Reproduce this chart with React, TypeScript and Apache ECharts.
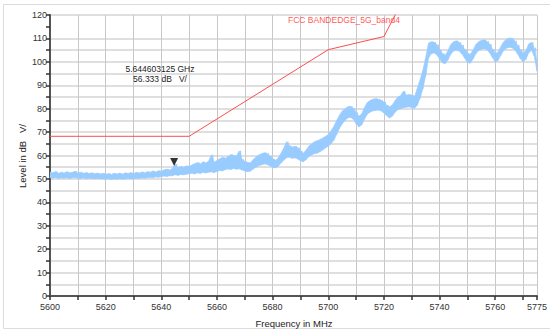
import React, { useEffect, useRef } from "react";
import * as echarts from "echarts";

// Measured trace: one low/high pair per MHz, starting at 5600 MHz
const traceStartMHz = 5600;
const traceStepMHz = 1;
const traceLow = [
  50.5, 50.3, 50.6, 50.2, 50.4, 50.3, 50.5, 50.2, 50.4, 50.6,
  50.3, 50.2, 50.4, 50.1, 50.3, 50.2, 50.0, 50.2, 50.1, 50.0,
  49.9, 50.1, 49.8, 50.0, 49.9, 50.1, 49.9, 50.0, 50.2, 50.0,
  50.1, 50.3, 50.2, 50.4, 50.3, 50.5, 50.6, 50.5, 50.8, 50.7,
  51.0, 51.2, 51.0, 51.4, 51.3, 51.8, 51.5, 51.9, 51.7, 52.0,
  52.2, 52.4, 52.1, 52.6, 52.3, 52.8, 52.5, 52.9, 53.0, 52.7,
  53.2, 53.6, 53.4, 54.0, 54.2, 54.0, 54.5, 54.1, 54.3, 53.8,
  53.4, 53.1, 53.3, 54.2, 55.0, 55.6, 56.0, 56.4, 56.2, 55.6,
  55.0, 54.7, 55.3, 56.8, 58.0, 59.0, 59.3, 58.8, 59.0, 58.5,
  57.8, 57.3, 58.2, 59.5, 60.2, 60.8, 61.0, 61.6, 62.4, 63.2,
  64.0, 65.0, 66.5, 69.0, 71.5, 73.5, 75.0, 76.0, 76.3, 75.5,
  73.6, 72.3, 73.0, 75.5, 77.6, 78.5, 79.0, 79.2, 79.4, 79.0,
  78.2, 77.0, 76.0, 76.8, 78.5, 79.5, 80.0, 80.4, 80.6, 80.8,
  80.5, 80.2, 81.5, 84.5, 88.5, 94.0, 101.5, 103.4, 103.8, 103.0,
  101.2, 99.6, 99.2, 100.8, 103.2, 104.6, 105.0, 104.6, 103.4, 101.6,
  99.8, 99.4, 101.2, 103.4, 104.8, 105.4, 105.6, 105.2, 103.8, 101.8,
  100.0, 100.6, 102.8, 104.8, 105.8, 106.2, 106.0, 105.2, 103.4, 101.4,
  100.0, 101.0, 103.8, 105.0, 102.5, 96.0,
];
const traceHigh = [
  53.0, 52.6, 53.2, 52.4, 52.9, 52.5, 53.1, 52.6, 52.8, 53.3,
  52.5, 52.9, 52.4, 52.7, 52.3, 52.6, 52.2, 52.5, 52.1, 52.4,
  52.0, 52.3, 51.9, 52.4, 52.1, 52.5, 52.0, 52.6, 52.3, 52.7,
  52.2, 52.8, 52.5, 53.0, 52.6, 53.1, 52.9, 53.4, 53.0, 53.5,
  53.3, 53.9, 54.2, 53.8, 54.6, 56.3, 54.8, 55.3, 54.9, 55.6,
  55.2, 56.0, 56.5, 57.0, 56.4, 57.3, 56.8, 57.6, 60.3, 57.2,
  57.9, 58.6, 59.2, 58.8, 59.6, 60.4, 60.0, 59.8, 62.0, 58.4,
  57.5, 57.0, 56.8, 58.3, 59.4, 60.2, 60.8, 61.2, 60.9, 59.8,
  58.6, 58.0, 58.9, 61.0, 63.2, 65.9, 64.2, 63.6, 64.0, 63.4,
  62.0, 61.0, 62.3, 64.0, 65.0, 65.9, 66.3, 66.8, 67.5, 68.2,
  69.0, 70.6, 72.5, 75.0, 77.2, 79.0, 80.0, 80.8, 81.0, 80.2,
  78.3, 76.8, 77.8, 80.5, 82.6, 83.5, 84.0, 84.3, 84.0, 83.6,
  82.8, 81.5, 80.8, 81.6, 83.5, 85.0, 85.6, 87.5, 85.8, 86.0,
  85.8, 85.2, 88.8, 92.5, 96.5, 102.0, 108.0, 108.6, 108.4, 107.4,
  105.2, 103.6, 102.8, 104.8, 107.4, 108.6, 109.0, 108.4, 107.2, 105.4,
  103.6, 103.2, 105.0, 107.4, 108.6, 109.2, 109.4, 108.8, 107.6, 105.4,
  103.6, 104.2, 106.6, 108.6, 109.6, 110.2, 110.0, 109.0, 107.2, 105.2,
  103.6, 104.8, 107.6, 108.4, 106.0, 99.5,
];

// FCC band-edge limit line
const limitFreqs = [5600, 5650, 5700, 5720, 5725];
const limitLevels = [68.2, 68.2, 105.2, 110.8, 122.2];
const limitName = "FCC BANDEDGE_5G_band4";

// Marker
const markerFreqMHz = 5644.603125;
const markerLevel = 56.333;
const markerLine1 = "5.644603125 GHz";
const markerLine2 = "56.333 dB   V/";

// Axes
const xMin = 5600;
const xMax = 5775;
const yMin = 0;
const yMax = 120;
const yStep = 5;
const yHiddenGridLevel = 115; // no horizontal grid line at this level in the source
const xTitle = "Frequency in MHz";
const yTitle = "Level in dB   V/";

const FONT = "Liberation Sans, Arial, sans-serif";
const TRACE_COLOR = "#99ccff";

export default function App() {
  const ref = useRef<HTMLDivElement>(null);

  useEffect(() => {
    if (!ref.current) return;
    const chart = echarts.init(ref.current, undefined, { renderer: "svg" });

    const freqs = traceLow.map((_, i) => traceStartMHz + i * traceStepMHz);
    const zigzag: number[][] = [];
    freqs.forEach((f, i) => {
      zigzag.push([f, traceLow[i]]);
      if (f + 0.5 <= xMax) zigzag.push([f + 0.5, traceHigh[i]]);
    });
    const limitData = limitFreqs.map((f, i) => [f, limitLevels[i]]);

    const yGridCount = Math.round((yMax - yMin) / yStep) + 1;
    const yGridColors: string[] = [];
    for (let k = 0; k < yGridCount; k++) {
      const level = yMin + k * yStep;
      yGridColors.push(level === yHiddenGridLevel ? "rgba(0,0,0,0)" : "#d4d4d4");
    }

    chart.setOption({
      animation: false,
      backgroundColor: "#ffffff",
      textStyle: { fontFamily: FONT },
      grid: { left: 50, right: 12, top: 15, bottom: 38, containLabel: false },
      xAxis: {
        type: "value",
        min: xMin,
        max: xMax,
        interval: 10,
        axisLine: { show: true, onZero: false, lineStyle: { color: "#555", width: 2 } },
        axisTick: { show: true, length: 4, lineStyle: { color: "#333", width: 1.5 } },
        axisLabel: {
          fontSize: 9,
          color: "#333",
          margin: 6,
          fontFamily: FONT,
          showMaxLabel: true,
          formatter: (v: number) => (v % 20 === 0 || v === xMax ? String(v) : ""),
        },
        splitLine: { show: true, lineStyle: { color: "#c8c8c8", width: 1 } },
      },
      yAxis: {
        type: "value",
        min: yMin,
        max: yMax,
        interval: yStep,
        axisLine: { show: true, onZero: false, lineStyle: { color: "#555", width: 2 } },
        axisTick: { show: true, length: 4, lineStyle: { color: "#333", width: 1.5 } },
        axisLabel: {
          fontSize: 9,
          color: "#333",
          margin: 3,
          fontFamily: FONT,
          formatter: (v: number) => (v % 10 === 0 ? String(v) : ""),
        },
        splitLine: { show: true, lineStyle: { color: yGridColors, width: 1.5 } },
      },
      series: [
        {
          type: "custom",
          name: "Trace",
          data: [[5700, 80]],
          silent: true,
          clip: true,
          z: 2,
          renderItem: (_params: any, api: any) => {
            const top = freqs.map((f, i) => api.coord([f, traceHigh[i]]));
            const bottom = freqs
              .map((f, i) => api.coord([f, traceLow[i]]))
              .reverse();
            return {
              type: "polygon",
              shape: { points: top.concat(bottom) },
              style: { fill: TRACE_COLOR, stroke: TRACE_COLOR, lineWidth: 0.6 },
            };
          },
        },
        {
          type: "line",
          name: "Trace noise",
          data: zigzag,
          showSymbol: false,
          symbol: "none",
          silent: true,
          lineStyle: { color: TRACE_COLOR, width: 0.8 },
          z: 2,
        },
        {
          type: "line",
          name: limitName,
          data: limitData,
          showSymbol: false,
          symbol: "none",
          clip: true,
          lineStyle: { color: "#ff4d4d", width: 1 },
          z: 3,
        },
        {
          type: "scatter",
          name: "Marker",
          data: [[markerFreqMHz, markerLevel]],
          symbol: "triangle",
          symbolRotate: 180,
          symbolSize: [8, 8],
          symbolOffset: [0, -2],
          itemStyle: { color: "#000" },
          z: 4,
        },
      ],
      graphic: [
        {
          type: "rect",
          silent: true,
          shape: { x: 3.5, y: 4.5, width: 560, height: 324 },
          style: { fill: "none", stroke: "#dcdcdc", lineWidth: 1 },
          z: -10,
        },
        {
          type: "text",
          x: 294,
          y: 323,
          style: {
            text: xTitle,
            fill: "#222",
            font: `9.5px ${FONT}`,
            align: "center",
            verticalAlign: "middle",
          },
          z: 10,
        },
        {
          type: "text",
          x: 22,
          y: 156,
          rotation: Math.PI / 2,
          style: {
            text: yTitle,
            fill: "#222",
            font: `9.5px ${FONT}`,
            align: "center",
            verticalAlign: "middle",
          },
          z: 10,
        },
        {
          type: "text",
          x: 344,
          y: 20,
          style: {
            text: limitName,
            fill: "#ff5a5a",
            font: `8.5px ${FONT}`,
            align: "center",
            verticalAlign: "middle",
          },
          z: 10,
        },
        {
          type: "text",
          x: 160,
          y: 69,
          style: {
            text: markerLine1,
            fill: "#222",
            font: `8.5px ${FONT}`,
            align: "center",
            verticalAlign: "middle",
          },
          z: 10,
        },
        {
          type: "text",
          x: 160,
          y: 79,
          style: {
            text: markerLine2,
            fill: "#222",
            font: `8.5px ${FONT}`,
            align: "center",
            verticalAlign: "middle",
          },
          z: 10,
        },
      ],
    });

    return () => chart.dispose();
  }, []);

  return (
    <div
      ref={ref}
      style={{ position: "absolute", left: 0, top: 0, width: 550, height: 334 }}
    />
  );
}
